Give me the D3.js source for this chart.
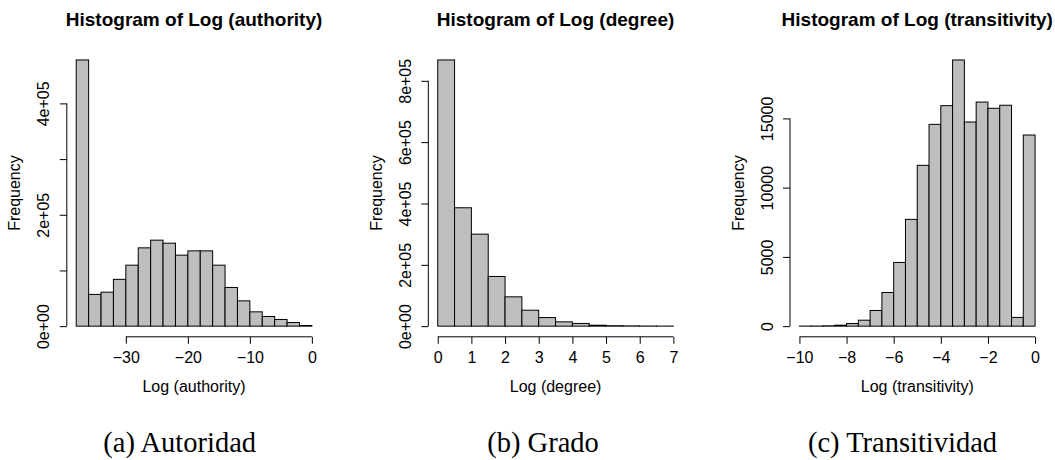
<!DOCTYPE html>
<html>
<head>
<meta charset="utf-8">
<script src="https://cdnjs.cloudflare.com/ajax/libs/d3/7.8.5/d3.min.js"></script>
<style>
  body { margin: 0; background: #fff; }
  text { font-family: "Liberation Sans", Arial, sans-serif; fill: #000; }
</style>
</head>
<body>
<script>
const W = 1055;
const H = 460;

// log(authority): bins of width 2 from -38 to 0
const authorityBreaks = [-38,-36,-34,-32,-30,-28,-26,-24,-22,-20,-18,-16,-14,-12,-10,-8,-6,-4,-2,0];
const authorityCounts = [478000,57000,61000,84000,109500,140600,154400,149000,127500,135200,135200,109500,69500,45400,25700,17400,12000,6600,1200];
const authorityXTicks = [-30,-20,-10,0];
const authorityYTicks = [0,100000,200000,300000,400000];

// log(degree): bins of width 0.5 from 0 to 7
const degreeBreaks = [0,0.5,1,1.5,2,2.5,3,3.5,4,4.5,5,5.5,6,6.5,7];
const degreeCounts = [868000,386000,300000,162000,95600,52000,28000,14000,8800,3000,1500,800,400,200];
const degreeXTicks = [0,1,2,3,4,5,6,7];
const degreeYTicks = [0,200000,400000,600000,800000];

// log(transitivity): bins of width 0.5 from -10 to 0
const transBreaks = [-10,-9.5,-9,-8.5,-8,-7.5,-7,-6.5,-6,-5.5,-5,-4.5,-4,-3.5,-3,-2.5,-2,-1.5,-1,-0.5,0];
const transCounts = [5,10,25,70,190,430,1130,2430,4600,7710,11610,14570,15920,19220,14740,16180,15730,15950,630,13800];
const transXTicks = [-10,-8,-6,-4,-2,0];
const transYTicks = [0,5000,10000,15000];

const titles = ['Histogram of Log (authority)','Histogram of Log (degree)','Histogram of Log (transitivity)'];
const xTitles = ['Log (authority)','Log (degree)','Log (transitivity)'];
const captions = ['(a) Autoridad','(b) Grado','(c) Transitividad'];

const svg = d3.select('body').append('svg').attr('width',W).attr('height',H)
svg.append('rect').attr('width',W).attr('height',H).attr('fill','#fff')

const sci = (v) => {
    if (v === 0) return '0e+00'
    const e = Math.floor(Math.log10(v))
    const m = Math.round(v / Math.pow(10, e))
    return m + 'e+' + String(e).padStart(2,'0')
}

const plotTop = 49.3, plotBottom = 336.8, pw = 254.5

function hist(left, breaks, counts, xTicks, yTicks, yFmt, i) {
    const bins = counts.map((c, k) => ({x0: breaks[k], x1: breaks[k+1], n: c}))
    const lo = breaks[0], hi = breaks[breaks.length-1]
    const dx = (hi - lo) * 0.04
    const ymax = d3.max(counts)
    const x = d3.scaleLinear().domain([lo - dx, hi + dx]).range([left, left + pw])
    const y = d3.scaleLinear().domain([-ymax * 0.04, ymax * 1.04]).range([plotBottom, plotTop])

    const g = svg.append('g')

    g.selectAll('.bar').data(bins).enter()
    .append('rect')
    .attr('class','bar')
    .attr('x', (d) => x(d.x0))
    .attr('y', (d) => y(d.n))
    .attr('width', (d) => x(d.x1) - x(d.x0))
    .attr('height', (d) => y(0) - y(d.n))
    .attr('fill','#bebebe')
    .attr('stroke','#000')
    .attr('stroke-width',1)

    // x axis, line only from first to last tick like R
    const xa = g.append('g').attr('transform','translate(0,' + plotBottom + ')')
    .call(d3.axisBottom(x).tickValues(xTicks).tickSize(7).tickPadding(8).tickFormat(d3.format('d')))
    xa.select('.domain').remove()
    xa.append('line').attr('x1', x(xTicks[0])).attr('x2', x(xTicks[xTicks.length-1])).attr('stroke','#000')
    xa.selectAll('text').style('font-size','16px').style('font-family','Liberation Sans, Arial, sans-serif')

    const ya = g.append('g').attr('transform','translate(' + x(lo - dx) + ',0)')
    .call(d3.axisLeft(y).tickValues(yTicks).tickSize(7).tickFormat(yFmt))
    ya.select('.domain').remove()
    ya.append('line').attr('y1', y(yTicks[0])).attr('y2', y(yTicks[yTicks.length-1])).attr('stroke','#000')
    ya.selectAll('text')
    .attr('x', null).attr('dy','0.35em')
    .attr('text-anchor','middle')
    .attr('transform', (d) => 'translate(-23,0) rotate(-90)')
    .style('font-size','16px').style('font-family','Liberation Sans, Arial, sans-serif')

    const cx = left + pw / 2
    svg.append('text').attr('x', cx).attr('y', 26).attr('text-anchor','middle')
    .style('font-size','19px').style('font-weight','bold').text(titles[i])

    svg.append('text').attr('x', cx).attr('y', 392).attr('text-anchor','middle')
    .style('font-size','16px').text(xTitles[i])

    svg.append('text').attr('text-anchor','middle').attr('dy','0.35em')
    .attr('transform','translate(' + (left - 52) + ',' + ((plotTop + plotBottom) / 2) + ') rotate(-90)')
    .style('font-size','16px').text('Frequency')
}

hist(66.8, authorityBreaks, authorityCounts, authorityXTicks, authorityYTicks, (d) => (d % 200000 === 0 ? sci(d) : ''), 0)
hist(428.3, degreeBreaks, degreeCounts, degreeXTicks, degreeYTicks, sci, 1)
hist(790, transBreaks, transCounts, transXTicks, transYTicks, d3.format('d'), 2)

const capX = [179.7, 543, 902.5]
svg.selectAll('.cap').data(captions).enter()
.append('text')
.attr('class','cap')
.attr('x', (d, k) => capX[k])
.attr('y', 452)
.attr('text-anchor','middle')
.style('font-family','Liberation Serif, Times New Roman, serif')
.style('font-size','28.5px')
.text((d) => d)
</script>
</body>
</html>
